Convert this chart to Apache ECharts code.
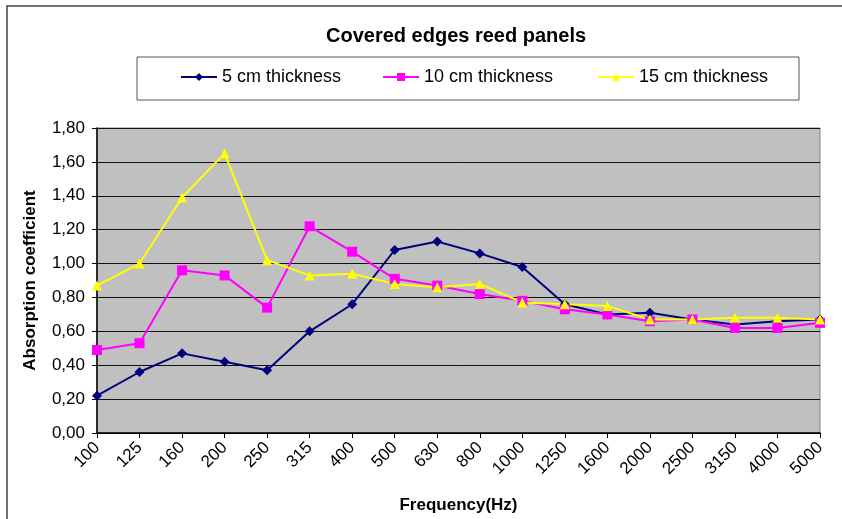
<!DOCTYPE html>
<html>
<head>
<meta charset="utf-8">
<title>Covered edges reed panels</title>
<script src="https://cdn.jsdelivr.net/npm/echarts@6/dist/echarts.min.js"></script>
<style>
html,body{margin:0;padding:0;background:#fff;}
#container{width:842px;height:519px;}
</style>
</head>
<body>
<div id="container"></div>
<script>
    var freqs = ['100','125','160','200','250','315','400','500','630','800','1000','1250','1600','2000','2500','3150','4000','5000'];
    var cm5  = [0.22,0.36,0.47,0.42,0.37,0.60,0.76,1.08,1.13,1.06,0.98,0.76,0.70,0.71,0.67,0.64,0.66,0.67];
    var cm10 = [0.49,0.53,0.96,0.93,0.74,1.22,1.07,0.91,0.87,0.82,0.78,0.73,0.70,0.66,0.67,0.62,0.62,0.65];
    var cm15 = [0.87,1.00,1.39,1.65,1.02,0.93,0.94,0.88,0.86,0.88,0.77,0.76,0.75,0.67,0.67,0.68,0.68,0.67];
    var names = ['5 cm thickness', '10 cm thickness', '15 cm thickness'];

    var font = '"Liberation Sans", Arial, sans-serif';

    // one legend per series so each item sits where Excel put it
    function legendAt(name, x) {
        return {
            data: [name],
            left: x,
            top: 68,
            itemWidth: 36,
            itemHeight: 10,
            itemGap: 4,
            padding: 0,
            textStyle: {color: '#000', fontSize: 18, fontFamily: font}
        };
    }

    var option = {
        backgroundColor: '#fff',
        animation: false,
        title: {
            text: 'Covered edges reed panels',
            left: 321,
            top: 21,
            textStyle: {color: '#000', fontSize: 20, fontWeight: 'bold', fontFamily: font}
        },
        graphic: [
            // outer chart frame (only top and left visible)
            {type: 'polyline', shape: {points: [[7, 519], [7, 6], [842, 6]]},
             style: {stroke: '#444', lineWidth: 1.5, fill: null}, silent: true},
            // legend box
            {type: 'rect', shape: {x: 137, y: 57, width: 662, height: 43},
             style: {stroke: '#555', lineWidth: 1, fill: '#fff'}, silent: true, z: -1}
        ],
        legend: [
            legendAt(names[0], 180),
            legendAt(names[1], 382),
            legendAt(names[2], 597)
        ],
        grid: {
            left: 97,
            right: 22,
            top: 128,
            bottom: 81,
            show: true,
            backgroundColor: '#c0c0c0',
            borderColor: '#808080',
            borderWidth: 1
        },
        xAxis: {
            type: 'category',
            boundaryGap: false,
            data: freqs,
            name: 'Frequency(Hz)',
            nameLocation: 'middle',
            nameGap: 64,
            nameTextStyle: {color: '#000', fontSize: 17, fontWeight: 'bold', fontFamily: font},
            axisLine: {lineStyle: {color: '#000', width: 1.5}},
            axisTick: {show: true, length: 5, alignWithLabel: true, lineStyle: {color: '#000'}},
            axisLabel: {
                rotate: 45,
                margin: 12,
                interval: 0,
                color: '#000',
                fontSize: 17,
                fontFamily: font
            },
            splitLine: {show: false}
        },
        yAxis: {
            type: 'value',
            min: 0,
            max: 1.8,
            interval: 0.2,
            name: 'Absorption coefficient',
            nameLocation: 'middle',
            nameGap: 58,
            nameTextStyle: {color: '#000', fontSize: 17, fontWeight: 'bold', fontFamily: font},
            axisLine: {show: true, lineStyle: {color: '#000', width: 1.5}},
            axisTick: {show: true, length: 5, lineStyle: {color: '#000'}},
            axisLabel: {
                color: '#000',
                fontSize: 17,
                fontFamily: font,
                margin: 12,
                formatter: function (v) {
                    return v.toFixed(2).replace('.', ',');
                }
            },
            splitLine: {show: true, lineStyle: {color: '#111', width: 1}}
        },
        series: [
            {
                name: names[0],
                type: 'line',
                data: cm5,
                symbol: 'diamond',
                symbolSize: 10,
                color: '#000080',
                lineStyle: {color: '#000080', width: 2},
                itemStyle: {color: '#000080'}
            },
            {
                name: names[1],
                type: 'line',
                data: cm10,
                symbol: 'rect',
                symbolSize: 10,
                color: '#ff00ff',
                lineStyle: {color: '#ff00ff', width: 2},
                itemStyle: {color: '#ff00ff'}
            },
            {
                name: names[2],
                type: 'line',
                data: cm15,
                symbol: 'triangle',
                symbolSize: 10,
                color: '#ffff00',
                lineStyle: {color: '#ffff00', width: 2},
                itemStyle: {color: '#ffff00'}
            }
        ]
    };
    var myChart = echarts.init(document.getElementById('container'));
    myChart.setOption(option, true);
</script>
</body>
</html>
